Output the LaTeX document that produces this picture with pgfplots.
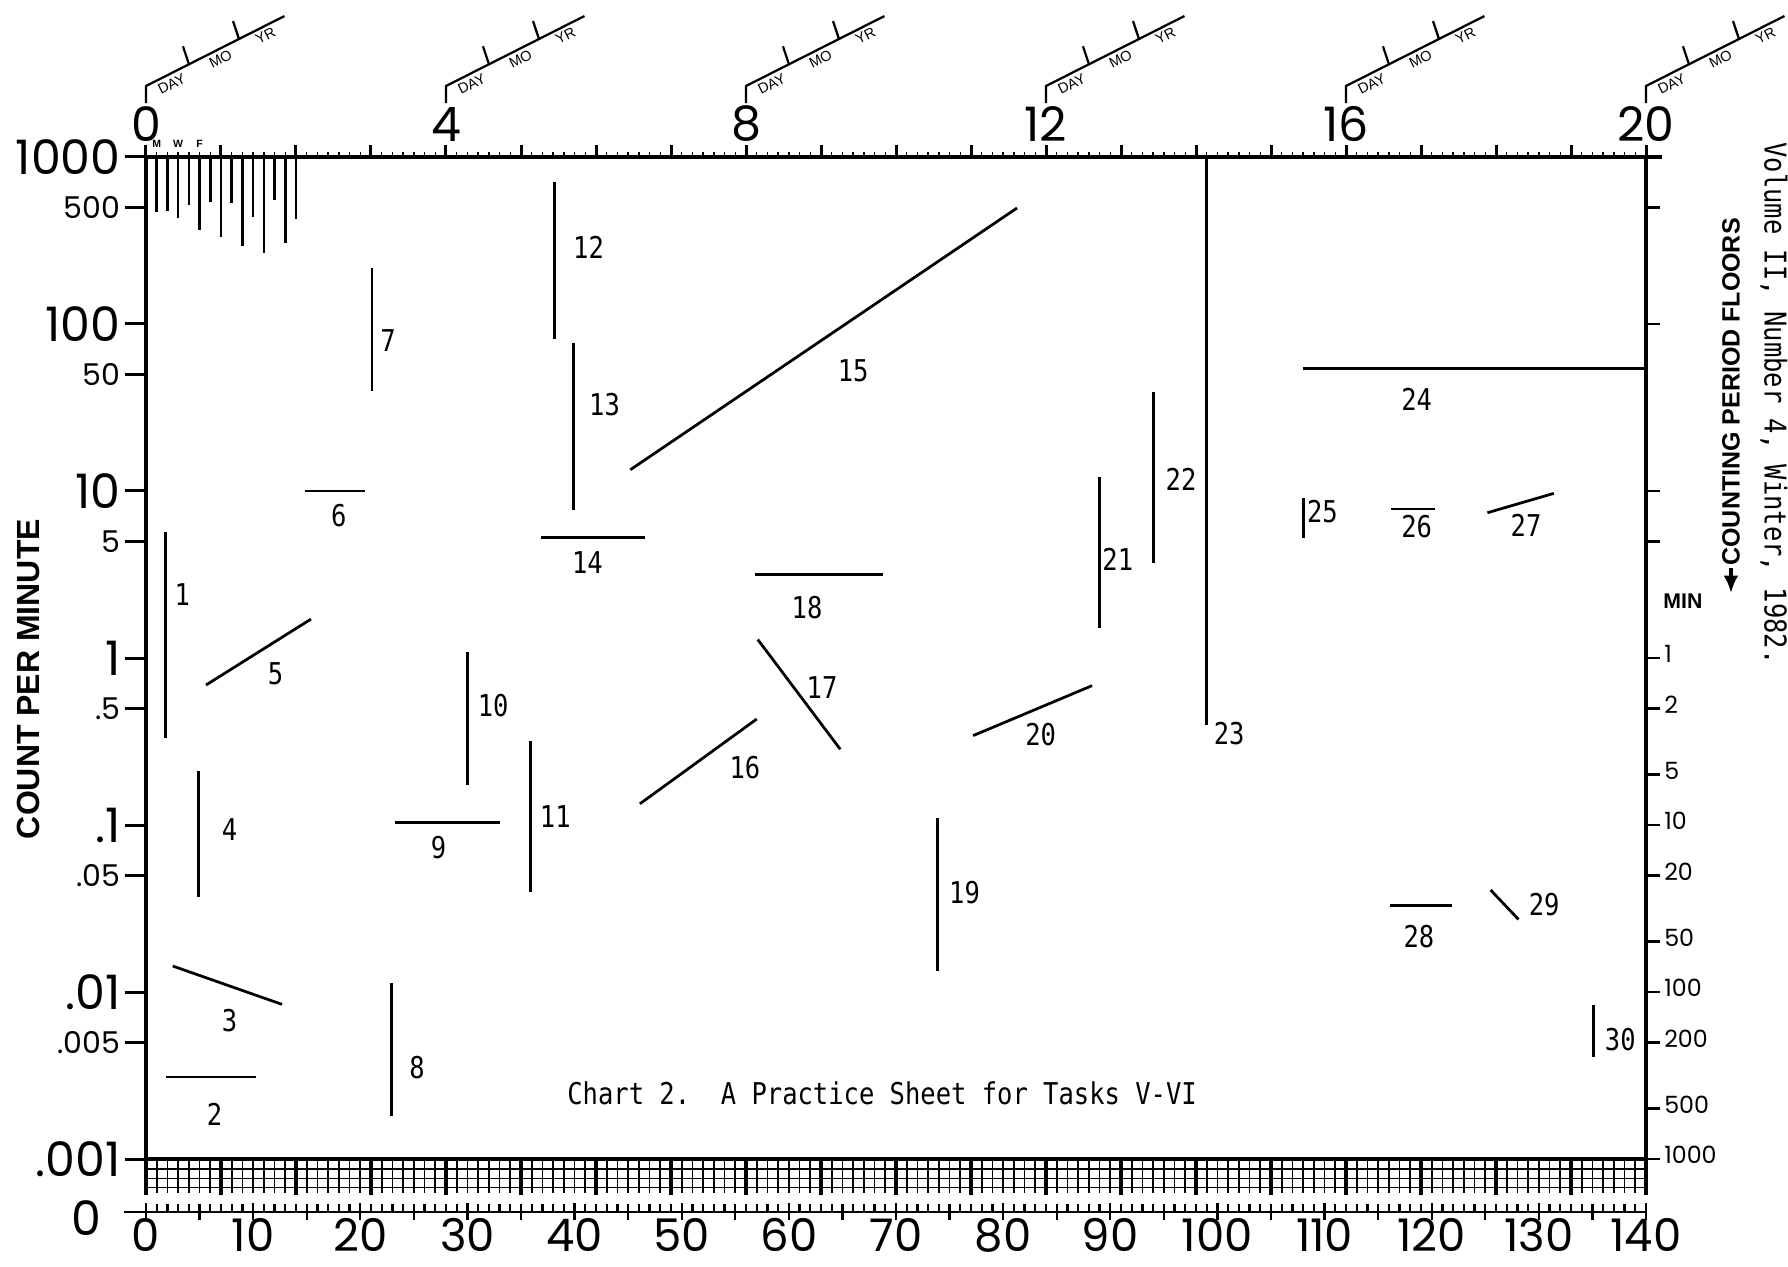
\documentclass[border=0pt]{standalone}
\usepackage{fontspec}
\usepackage{pgfplots}
\pgfplotsset{compat=1.18}
\usetikzlibrary{arrows.meta}
\setmainfont{Liberation Sans}
\newfontfamily\geo[Numbers=Proportional]{Poppins}
\newfontfamily\tw[FakeStretch=0.85]{DejaVu Sans Mono}
\newcommand\geobig{\geo\fontsize{19}{19}\selectfont}
\newcommand\geomid{\geo\fontsize{18}{18}\selectfont}
\newcommand\geosmall{\geo\fontsize{12}{12}\selectfont}
\newcommand\geotiny{\geo\fontsize{9.5}{9.5}\selectfont}
\newcommand\twlab{\tw\fontsize{12}{12}\selectfont}
\newcommand\dmy{\fontsize{5.8}{5.8}\selectfont}
\tikzset{
  seg/.style={black, line width=1.1pt, mark=none},
  lbl/.style={font=\twlab, inner sep=0pt},
}

\begin{document}
\begin{tikzpicture}
% main chart: count per minute against days (top scale in weeks)
\begin{axis}[
  at={(0,0)}, anchor=south west,
  width=600pt, height=400.8pt, scale only axis,
  xmin=0, xmax=140, ymin=1e-3, ymax=1e3, ymode=log,
  axis x line=top, axis y line=left,
  axis line style={-, line width=1.6pt},
  clip=false, unbounded coords=jump,
  xtick={0,7,...,140},
  xticklabels={0,,,,4,,,,8,,,,12,,,,16,,,,20},
  minor x tick num=6,
  xtick style={/pgfplots/major tick length=4.8pt},
  ytick={1e-3,1e-2,1e-1,1,10,100,1000},
  yticklabels={.001,.01,.1,1,10,100,1000},
  extra y ticks={5e-3,5e-2,0.5,5,50,500},
  extra y tick labels={.005,.05,.5,5,50,500},
  extra y tick style={yticklabel style={font=\geosmall}},
  yminorticks=false,
  tick align=outside,
  major tick length=8.5pt, minor tick length=2pt,
  tick style={black, line width=1.2pt},
  minor tick style={line width=0.6pt},
  xticklabel style={font=\geobig, inner sep=1pt, yshift=-3.5pt},
  yticklabel style={font=\geobig, inner sep=1.5pt},
]
% daily comb, days 1-14
\addplot[black, line width=1pt, mark=none] coordinates {
  (1,1000) (1,470) (1,nan)
  (2,1000) (2,475) (2,nan)
  (3,1000) (3,432) (3,nan)
  (4,1000) (4,516) (4,nan)
  (5,1000) (5,366) (5,nan)
  (6,1000) (6,540) (6,nan)
  (7,1000) (7,333) (7,nan)
  (8,1000) (8,531) (8,nan)
  (9,1000) (9,293) (9,nan)
  (10,1000) (10,440) (10,nan)
  (11,1000) (11,266) (11,nan)
  (12,1000) (12,552) (12,nan)
  (13,1000) (13,305) (13,nan)
  (14,1000) (14,424)
};
\addplot[seg] coordinates {(1.85,5.7) (1.85,0.334)};
\node[lbl] at (axis cs:3.4,2.4) {1};
\addplot[seg] coordinates {(1.9,0.0031) (10.3,0.0031)};
\node[lbl] at (axis cs:6.4,0.00186) {2};
\addplot[seg] coordinates {(2.5,0.0143) (12.7,0.00843)};
\node[lbl] at (axis cs:7.8,0.0067) {3};
\addplot[seg] coordinates {(4.9,0.211) (4.9,0.0373)};
\node[lbl] at (axis cs:7.8,0.094) {4};
\addplot[seg] coordinates {(5.6,0.689) (15.4,1.71)};
\node[lbl] at (axis cs:12.1,0.81) {5};
\addplot[seg] coordinates {(14.8,10) (20.4,10)};
\node[lbl] at (axis cs:18,7.1) {6};
\addplot[seg] coordinates {(21.1,217) (21.1,39.9)};
\node[lbl] at (axis cs:22.6,80) {7};
\addplot[seg] coordinates {(22.9,0.0113) (22.9,0.00181)};
\node[lbl] at (axis cs:25.3,0.00353) {8};
\addplot[seg] coordinates {(23.2,0.104) (33.0,0.104)};
\node[lbl] at (axis cs:27.3,0.073) {9};
\addplot[seg] coordinates {(30.0,1.09) (30.0,0.174)};
\node[lbl] at (axis cs:32.4,0.52) {10};
\addplot[seg] coordinates {(35.9,0.317) (35.9,0.0396)};
\node[lbl] at (axis cs:38.2,0.113) {11};
\addplot[seg] coordinates {(38.1,711) (38.1,80.9)};
\node[lbl] at (axis cs:41.3,288) {12};
\addplot[seg] coordinates {(39.9,77.3) (39.9,7.69)};
\node[lbl] at (axis cs:42.8,32.8) {13};
\addplot[seg] coordinates {(36.9,5.28) (46.6,5.28)};
\node[lbl] at (axis cs:41.2,3.72) {14};
\addplot[seg] coordinates {(45.2,13.4) (81.3,495)};
\node[lbl] at (axis cs:66.0,52.5) {15};
\addplot[seg] coordinates {(46.1,0.134) (57.0,0.431)};
\node[lbl] at (axis cs:55.9,0.221) {16};
\addplot[seg] coordinates {(57.1,1.29) (64.8,0.284)};
\node[lbl] at (axis cs:63.1,0.665) {17};
\addplot[seg] coordinates {(56.8,3.17) (68.8,3.17)};
\node[lbl] at (axis cs:61.7,2.0) {18};
\addplot[seg] coordinates {(73.9,0.110) (73.9,0.0133)};
\node[lbl] at (axis cs:76.4,0.0395) {19};
\addplot[seg] coordinates {(77.2,0.343) (88.3,0.683)};
\node[lbl] at (axis cs:83.5,0.35) {20};
\addplot[seg] coordinates {(89.0,12.2) (89.0,1.51)};
\node[lbl] at (axis cs:90.7,3.87) {21};
\addplot[seg] coordinates {(94.0,39.4) (94.0,3.69)};
\node[lbl] at (axis cs:96.6,11.8) {22};
\addplot[seg] coordinates {(99.0,1000) (99.0,0.397)};
\node[lbl] at (axis cs:101.1,0.353) {23};
\addplot[seg] coordinates {(108.0,54) (140,54)};
\node[lbl] at (axis cs:118.6,35.3) {24};
\addplot[seg] coordinates {(108.0,9.04) (108.0,5.21)};
\node[lbl] at (axis cs:109.8,7.55) {25};
\addplot[seg] coordinates {(116.2,7.8) (120.3,7.8)};
\node[lbl] at (axis cs:118.6,6.11) {26};
\addplot[seg] coordinates {(125.2,7.41) (131.4,9.68)};
\node[lbl] at (axis cs:128.8,6.2) {27};
\addplot[seg] coordinates {(116.1,0.033) (121.9,0.033)};
\node[lbl] at (axis cs:118.8,0.0216) {28};
\addplot[seg] coordinates {(125.5,0.0408) (128.1,0.0272)};
\node[lbl] at (axis cs:130.5,0.0335) {29};
\addplot[seg] coordinates {(135.1,0.00832) (135.1,0.00407)};
\node[lbl] at (axis cs:137.6,0.0052) {30};
\node[lbl, anchor=base] at (axis cs:68.7,0.00213) {Chart 2.\ \ A Practice Sheet for Tasks V-VI};
\end{axis}

% right scale: counting period floors in minutes
\begin{axis}[
  at={(0,0)}, anchor=south west,
  width=600pt, height=400.8pt, scale only axis,
  xmin=0, xmax=140, ymin=1e-3, ymax=1e3, ymode=log,
  axis x line=none, axis y line=right,
  axis line style={-, line width=1.6pt},
  ytick={1,0.5,0.2,0.1,0.05,0.02,0.01,0.005,0.002,0.001},
  yticklabels={1,2,5,10,20,50,100,200,500,1000},
  extra y ticks={500,100,10,5}, extra y tick labels={},
  yminorticks=false, tick align=outside,
  major tick length=5.6pt,
  tick style={black, line width=1pt},
  yticklabel style={font=\geotiny, inner sep=1.5pt, yshift=1.5pt},
]
\end{axis}

% bottom scale in days
\begin{axis}[
  at={(0,-21.2pt)}, anchor=south west,
  width=600pt, height=20pt, scale only axis,
  xmin=0, xmax=140, ymin=0, ymax=1,
  axis x line=bottom, axis y line=none,
  axis line style={-, line width=1pt},
  xtick={0,10,...,140},
  xticklabels={0,10,20,30,40,50,60,70,80,90,100,110,120,130,140},
  minor x tick num=9,
  tick align=inside,
  major tick length=3.6pt, minor tick length=3.4pt,
  tick style={black, line width=0.9pt},
  extra x ticks={0,5,...,140}, extra x tick labels={},
  extra x tick style={tick align=outside, major tick length=3pt},
  xticklabel style={font=\geomid, inner sep=0pt, yshift=-2.5pt},
]
\end{axis}

\begin{scope}[x=0.4pt, y=0.4pt]
  % grid band below .001
  \foreach \d in {0,...,140} {
    \draw[line width=0.7pt] ({\d*10.7143},0) -- ({\d*10.7143},-34);
  }
  \foreach \w in {0,...,20} {
    \draw[line width=1.5pt] ({\w*75},0) -- ({\w*75},-36);
  }
  \foreach \yy in {-10,-19.5,-28.5} {
    \draw[line width=0.7pt] (0,\yy) -- (1500,\yy);
  }
  \draw[line width=1.6pt] (0,0) -- (1500,0);
  \draw[line width=1.6pt] (0,0) -- (0,-36);
  \draw[line width=1.6pt] (1500,0) -- (1500,-36);
  \draw[line width=1.6pt] (1500,1002) -- (1516,1002);
  \draw[line width=1pt] (-22,-53) -- (0,-53);
  \node[font=\geobig, inner sep=0pt] at (-60,-59) {0};

  % day / month / year brackets over each labelled week
  \foreach \xw in {0,300,...,1500} {
    \draw[line width=0.9pt] (\xw,1056) -- (\xw,1073) -- ++(138.5,70);
    \draw[line width=0.9pt] ({\xw+43},1094.7) -- ++(-6,18);
    \draw[line width=0.9pt] ({\xw+93},1120) -- ++(-6,18);
    \node[font=\dmy, rotate=26.8, inner sep=0pt] at ({\xw+25.6},1075) {DAY};
    \node[font=\dmy, rotate=26.8, inner sep=0pt] at ({\xw+74.6},1100) {MO};
    \node[font=\dmy, rotate=26.8, inner sep=0pt] at ({\xw+119.4},1123) {YR};
  }
  \node[font=\bfseries\fontsize{4.2}{4.2}\selectfont, inner sep=0pt] at (10.7,1015) {M};
  \node[font=\bfseries\fontsize{4.2}{4.2}\selectfont, inner sep=0pt] at (32.1,1015) {W};
  \node[font=\bfseries\fontsize{4.2}{4.2}\selectfont, inner sep=0pt] at (53.6,1015) {F};

  \node[font=\bfseries\fontsize{12.8}{12.8}\selectfont, rotate=90] at (-117.5,480) {COUNT PER MINUTE};
  \node[font=\bfseries\fontsize{10}{10}\selectfont, rotate=90, anchor=west, inner sep=0pt] at (1585,593) {COUNTING PERIOD FLOORS};
  \draw[-{Latex[length=7pt,width=6pt]}, line width=1.5pt] (1585,591) -- (1585,566);
  \node[font=\bfseries\fontsize{8.5}{8.5}\selectfont, anchor=west, inner sep=0pt] at (1517,558) {MIN};
  \node[font=\twlab, rotate=-90, anchor=west, inner sep=0pt] at (1628,1017) {Volume II, Number 4, Winter, 1982.};
\end{scope}

\pgfresetboundingbox
\path[use as bounding box] (-58.4pt,-42.8pt) rectangle (656.8pt,463.6pt);
\end{tikzpicture}
\end{document}
